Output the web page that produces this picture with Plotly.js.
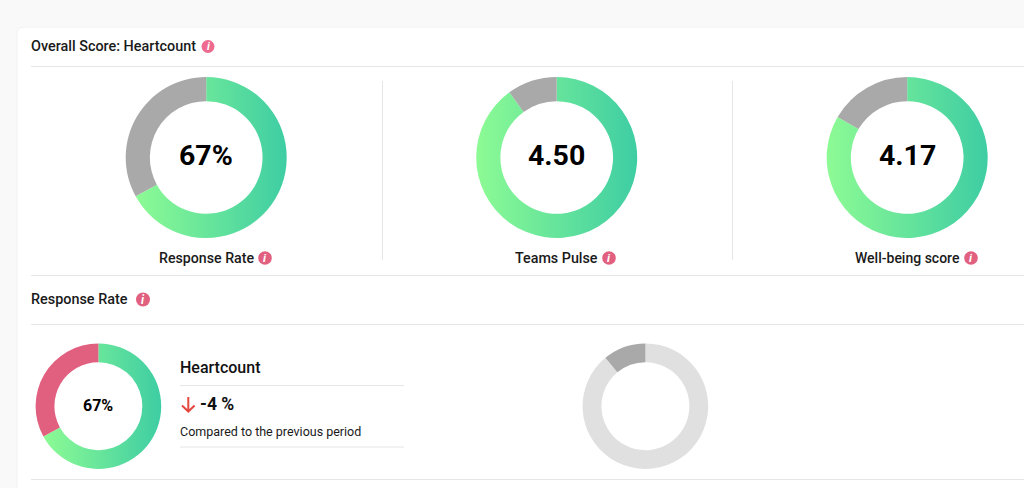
<!DOCTYPE html>
<html><head><meta charset="utf-8">
<script src="https://cdn.plot.ly/plotly-3.0.1.min.js"></script>
<style>html,body{margin:0;padding:0;background:#f9f9f9;overflow:hidden}#c{width:1024px;height:488px}</style>
</head><body><div id="c"></div>
<script>
// Data
const donutLabels = ['Response Rate', 'Teams Pulse', 'Well-being score', 'Heartcount', 'Comparison'];
const centerTexts = ['67%', '4.50', '4.17', '67%', ''];
const filledValues = [67, 90, 83.4, 67, 89];
const restValues = [33, 10, 16.6, 33, 11];
const sectionTitles = ['Overall Score: Heartcount', 'Response Rate'];
const deltaText = '-4 %';
const compareText = 'Compared to the previous period';
const unitName = 'Heartcount';

const W = 1024, H = 488;
const X = x => x / W, Y = y => 1 - y / H;
const FONT = 'Roboto, sans-serif';
const GREEN = '#66e39f', GREY = '#a9a9a9', PINK = '#e2607f', LIGHT = '#e0e0e0', RULE = '#e6e6e6';

const geom = [
  {cx: 206.2, cy: 157.5, r: 80.5, rest: GREY, fill: GREEN, grad: true, size: 28.5, dy: -2.5},
  {cx: 556.7, cy: 157.5, r: 80.5, rest: GREY, fill: GREEN, grad: true, size: 28.5, dy: -2.5},
  {cx: 907.2, cy: 157.5, r: 80.5, rest: GREY, fill: GREEN, grad: true, size: 28.5, dy: -2.5},
  {cx: 98.4, cy: 406.2, r: 62.8, rest: PINK, fill: GREEN, grad: true, size: 16, dy: -0.5},
  {cx: 645.4, cy: 406.2, r: 62.8, rest: GREY, fill: LIGHT, grad: false, size: 16, dy: 0}
];

const traces = geom.map((g, i) => ({
  type: 'pie', name: donutLabels[i], sort: false, direction: 'clockwise', rotation: 0,
  values: [filledValues[i], restValues[i]], labels: ['Score', 'Rest'],
  hole: 0.7, textinfo: 'none', showlegend: false, hoverinfo: 'skip',
  marker: {colors: [g.fill, g.rest], line: {width: 0}},
  domain: {x: [X(g.cx - g.r), X(g.cx + g.r)], y: [Y(g.cy + g.r), Y(g.cy - g.r)]}
}));

const hLine = (x0, x1, y, c) => ({type: 'line', layer: 'below', xref: 'paper', yref: 'paper', x0: X(x0), x1: X(x1), y0: Y(y), y1: Y(y), line: {color: c || RULE, width: 1}});
const vLine = (x, y0, y1) => ({type: 'line', layer: 'below', xref: 'paper', yref: 'paper', x0: X(x), x1: X(x), y0: Y(y0), y1: Y(y1), line: {color: RULE, width: 1}});
const dot = (x, y, r, c) => ({type: 'circle', layer: 'below', xref: 'paper', yref: 'paper', x0: X(x - r), x1: X(x + r), y0: Y(y + r), y1: Y(y - r), fillcolor: c, line: {width: 0}});
const P = (x, y) => X(x) + ' ' + Y(y);

const icons = [[208, 46.5, 6.5, '#ee6b8f'], [265, 258, 6.8, PINK], [609, 258, 6.8, PINK], [971, 258, 6.8, PINK], [143, 299.5, 7, PINK]];

const shapes = [
  {type: 'path', layer: 'below', xref: 'paper', yref: 'paper', fillcolor: '#ffffff', line: {color: '#f2f2f2', width: 1},
   path: `M ${P(17, 490)} L ${P(17, 34)} Q ${P(17, 27)} ${P(24, 27)} L ${P(1026, 27)} L ${P(1026, 490)} Z`},
  hLine(31, 1024, 66.5), hLine(31, 1024, 275.5), hLine(31, 1024, 324.5), hLine(31, 1024, 479.5),
  hLine(180, 404, 385.5), hLine(180, 404, 447),
  vLine(382.5, 81, 260), vLine(732.5, 81, 260),
  {type: 'path', layer: 'below', xref: 'paper', yref: 'paper', line: {color: '#e5483f', width: 2},
   path: `M ${P(188.3, 397)} L ${P(188.3, 411.5)} M ${P(182, 405.5)} L ${P(188.3, 411.5)} L ${P(194.6, 405.5)}`}
].concat(icons.map(d => dot(d[0], d[1], d[2], d[3])));

const txt = (x, y, t, size, weight, anchor, color) => ({
  xref: 'paper', yref: 'paper', x: X(x), y: Y(y), text: t, showarrow: false,
  xanchor: anchor || 'center', yanchor: 'middle', borderpad: 0, borderwidth: 0,
  font: {family: FONT, size: size, weight: weight || 400, color: color || '#1a1a1a'}
});

const annotations = [
  txt(31, 46.5, sectionTitles[0], 14.4, 500, 'left'),
  txt(31, 299.5, sectionTitles[1], 14.4, 500, 'left'),
  txt(206, 258, donutLabels[0], 14.2, 500),
  txt(556.5, 258, donutLabels[1], 14.3, 500),
  txt(907, 258, donutLabels[2], 14, 500),
  txt(180, 367, unitName, 16, 500, 'left', '#111111'),
  txt(200, 403.5, deltaText, 17.5, 700, 'left', '#111111'),
  txt(180, 431, compareText, 12.5, 400, 'left')
].concat(geom.filter((g, i) => centerTexts[i]).map((g, i) => txt(g.cx, g.cy + g.dy, centerTexts[i], g.size, 700, 'center', '#000000')))
 .concat(icons.map(d => txt(d[0], d[1], '<i>i</i>', d[2] * 1.7, 700, 'center', '#ffffff')));

const layout = {width: W, height: H, margin: {l: 0, r: 0, t: 0, b: 0}, paper_bgcolor: '#f9f9f9', plot_bgcolor: 'rgba(0,0,0,0)',
  showlegend: false, shapes, annotations};

const gd = document.getElementById('c');
Plotly.newPlot(gd, traces, layout, {staticPlot: true, displayModeBar: false}).then(() => {
  const NS = 'http://www.w3.org/2000/svg';
  const defs = gd.querySelector('svg.main-svg defs');
  const lg = document.createElementNS(NS, 'linearGradient');
  lg.setAttribute('id', 'scoreGrad');
  lg.setAttribute('x1', '0'); lg.setAttribute('x2', '1'); lg.setAttribute('y1', '0'); lg.setAttribute('y2', '0');
  [['0', '#8dfb94'], ['1', '#3ecda3']].forEach(s => {
    const st = document.createElementNS(NS, 'stop');
    st.setAttribute('offset', s[0]); st.setAttribute('stop-color', s[1]); lg.appendChild(st);
  });
  defs.appendChild(lg);
  gd.querySelectorAll('.pielayer .trace').forEach((t, i) => {
    if (!geom[i].grad) return;
    const p = t.querySelector('.slice path.surface');
    if (p) p.style.fill = 'url(#scoreGrad)';
  });
});
</script></body></html>
